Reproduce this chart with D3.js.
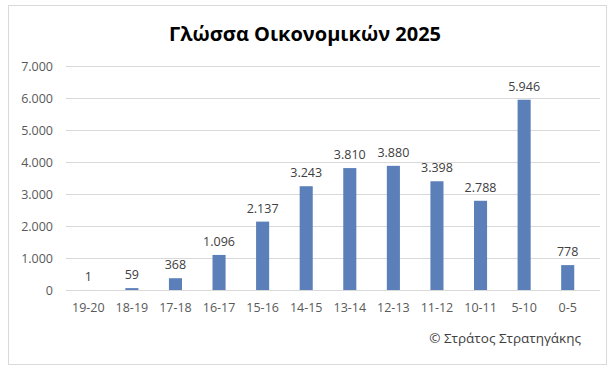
<!DOCTYPE html>
<html><head><meta charset="utf-8">
<script src="https://cdn.jsdelivr.net/npm/d3@7"></script>
<style>body{margin:0;background:#fff}svg{display:block}</style>
</head><body>
<script>
const categories = ["19-20","18-19","17-18","16-17","15-16","14-15","13-14","12-13","11-12","10-11","5-10","0-5"];
const values = [1,59,368,1096,2137,3243,3810,3880,3398,2788,5946,778];
const yTicks = [0,1000,2000,3000,4000,5000,6000,7000];
const title = "Γλώσσα Οικονομικών 2025";
const credit = "© Στράτος Στρατηγάκης";

const W=615,H=376;
const svg=d3.select("body").append("svg").attr("width",W).attr("height",H);
svg.append("rect").attr("x",8.5).attr("y",5.5).attr("width",598).attr("height",359)
  .attr("fill","#fff").attr("stroke","#d9d9d9");
const fmt=v=>d3.format(",")(v).replace(/,/g,".");
const x=d3.scaleBand().domain(categories).range([66.5,589.5]).paddingInner(0.7).paddingOuter(0.35);
const y=d3.scaleLinear().domain([0,7000]).range([290,66]);
const font="'Open Sans', 'Noto Sans', sans-serif";

svg.append("text").attr("x",305).attr("y",41).attr("text-anchor","middle")
  .attr("font-family",font).attr("font-weight","bold").attr("font-size",20).attr("fill","#000").text(title);

const ya=d3.axisLeft(y).tickValues(yTicks).tickSize(-(600-66)).tickFormat(fmt);
const gy=svg.append("g").attr("transform","translate(66,0)").call(ya);
gy.select(".domain").remove();
gy.selectAll("line").attr("stroke","#d9d9d9");
gy.selectAll("text").attr("x",-13).attr("font-family",font).attr("font-size",12.5).attr("fill","#595959");

const xa=d3.axisBottom(x).tickSize(0);
const gx=svg.append("g").attr("transform","translate(0,290)").call(xa);
gx.select(".domain").remove();
gx.selectAll("text").attr("dy","1.5em").attr("font-family",font).attr("font-size",12.5).attr("fill","#595959");

svg.selectAll("rect.bar").data(values).enter().append("rect").attr("class","bar")
  .attr("x",(d,i)=>x(categories[i])).attr("width",x.bandwidth())
  .attr("y",d=>y(d)).attr("height",d=>y(0)-y(d)).attr("fill","#5b7fb9");

svg.selectAll("text.lbl").data(values).enter().append("text").attr("class","lbl")
  .attr("x",(d,i)=>x(categories[i])+x.bandwidth()/2).attr("y",d=>y(d)-9)
  .attr("text-anchor","middle").attr("font-family",font).attr("font-size",12.5).attr("fill","#404040")
  .text(fmt);

svg.append("text").attr("x",581).attr("y",343).attr("text-anchor","end")
  .attr("font-family",font).attr("font-size",13.5).attr("fill","#404040").text(credit);
</script>
</body></html>
